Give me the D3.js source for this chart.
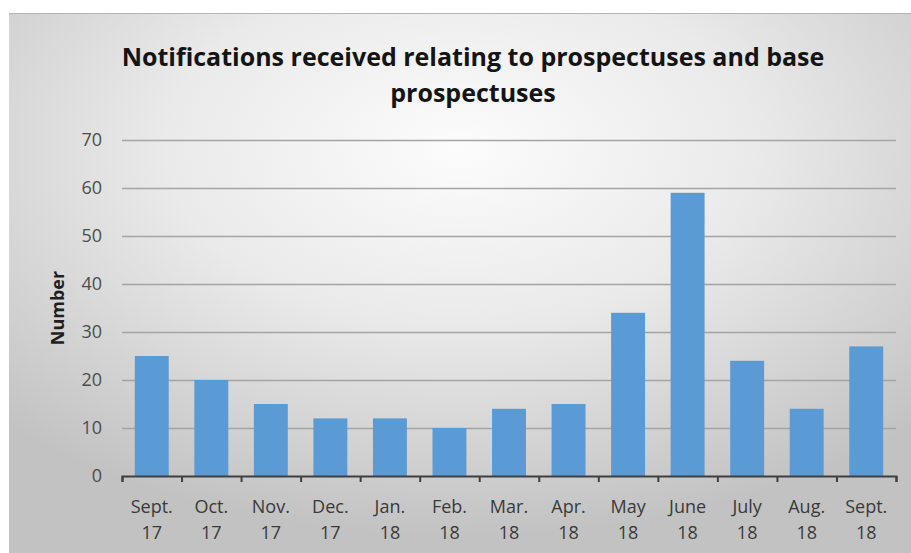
<!DOCTYPE html>
<html>
<head>
<meta charset="utf-8">
<script src="https://cdn.jsdelivr.net/npm/d3@7"></script>
<style>
  html, body { margin: 0; padding: 0; background: #fff; }
  svg { display: block; }
</style>
</head>
<body>
<script>
const months = ['Sept.', 'Oct.', 'Nov.', 'Dec.', 'Jan.', 'Feb.', 'Mar.', 'Apr.', 'May', 'June', 'July', 'Aug.', 'Sept.'];
const years = ['17', '17', '17', '17', '18', '18', '18', '18', '18', '18', '18', '18', '18'];
const counts = [25, 20, 15, 12, 12, 10, 14, 15, 34, 59, 24, 14, 27];
const yTicks = [0, 10, 20, 30, 40, 50, 60, 70];

const width = 911;
const height = 553;
const font = "'Open Sans', sans-serif";

const svg = d3.select('body')
    .append('svg')
    .attr('width', width)
    .attr('height', height);

// background gradient like the office chart area
const defs = svg.append('defs');
const grad = defs.append('radialGradient')
    .attr('id', 'bg')
    .attr('cx', '50%').attr('cy', '25%')
    .attr('r', '72%');
grad.append('stop').attr('offset', '0%').attr('stop-color', '#fcfcfc');
grad.append('stop').attr('offset', '45%').attr('stop-color', '#eaeaea');
grad.append('stop').attr('offset', '100%').attr('stop-color', '#c2c2c2');

svg.append('rect')
    .attr('x', 9)
    .attr('y', 13)
    .attr('width', width - 9)
    .attr('height', height - 13)
    .attr('fill', 'url(#bg)');

svg.append('line')
    .attr('x1', 9).attr('x2', width)
    .attr('y1', 13.5).attr('y2', 13.5)
    .attr('stroke', '#b4b4b4');

const margin = { left: 122, right: 15, top: 140, bottom: 77 };

const xScale = d3.scaleBand()
    .domain(d3.range(counts.length))
    .range([margin.left, width - margin.right])
    .paddingInner(0.43)
    .paddingOuter(0.215);

const yScale = d3.scaleLinear()
    .domain([0, 70])
    .range([height - margin.bottom, margin.top]);

// gridlines
svg.append('g')
    .selectAll('line')
    .data(yTicks.slice(1))
    .enter()
    .append('line')
    .attr('x1', margin.left)
    .attr('x2', width - margin.right)
    .attr('y1', d => Math.round(yScale(d)) + 0.5)
    .attr('y2', d => Math.round(yScale(d)) + 0.5)
    .attr('stroke', '#a4a4a4')
    .attr('stroke-width', 1.5);

const yAxis = d3.axisLeft(yScale)
    .tickValues(yTicks)
    .tickSize(0)
    .tickPadding(20);

svg.append('g')
    .attr('transform', 'translate(' + margin.left + ', 0)')
    .call(yAxis)
    .call(g => g.select('.domain').remove())
    .selectAll('text')
    .style('font-family', font)
    .style('font-size', '18px')
    .attr('fill', '#4d4d4d');

svg.selectAll('rect.bar')
    .data(counts)
    .enter()
    .append('rect')
    .attr('class', 'bar')
    .attr('x', (d, i) => xScale(i))
    .attr('y', d => yScale(d))
    .attr('width', xScale.bandwidth())
    .attr('height', d => yScale(0) - yScale(d))
    .attr('fill', '#5b9bd5');

// x axis with ticks between categories
const xLine = d3.scaleLinear()
    .domain([0, counts.length])
    .range([margin.left, width - margin.right]);

const xAxis = d3.axisBottom(xLine)
    .tickValues(d3.range(counts.length + 1))
    .tickSize(6)
    .tickSizeOuter(6)
    .tickFormat('');

svg.append('g')
    .attr('transform', 'translate(0, ' + yScale(0) + ')')
    .call(xAxis)
    .call(g => g.selectAll('line, path').attr('stroke', '#3f3f3f').attr('stroke-width', 2));

const labels = svg.append('g')
    .selectAll('text')
    .data(months)
    .enter()
    .append('text')
    .attr('x', (d, i) => xScale(i) + xScale.bandwidth() / 2)
    .attr('y', yScale(0) + 37)
    .attr('text-anchor', 'middle')
    .style('font-family', font)
    .style('font-size', '18px')
    .attr('fill', '#3a3a3a');

labels.append('tspan')
    .attr('x', (d, i) => xScale(i) + xScale.bandwidth() / 2)
    .text(d => d);
labels.append('tspan')
    .attr('x', (d, i) => xScale(i) + xScale.bandwidth() / 2)
    .attr('dy', 26)
    .text((d, i) => years[i]);

svg.append('text')
    .attr('transform', 'translate(64, ' + ((yScale(0) + yScale(70)) / 2) + ') rotate(-90)')
    .attr('text-anchor', 'middle')
    .style('font-family', font)
    .style('font-size', '18px')
    .style('font-weight', 'bold')
    .attr('fill', '#1f1f1f')
    .text('Number');

const title = svg.append('text')
    .attr('text-anchor', 'middle')
    .style('font-family', font)
    .style('font-size', '25px')
    .style('font-weight', 'bold')
    .attr('fill', '#141414');

title.append('tspan')
    .attr('x', 473)
    .attr('y', 66)
    .text('Notifications received relating to prospectuses and base');
title.append('tspan')
    .attr('x', 473)
    .attr('y', 102)
    .text('prospectuses');
</script>
</body>
</html>
